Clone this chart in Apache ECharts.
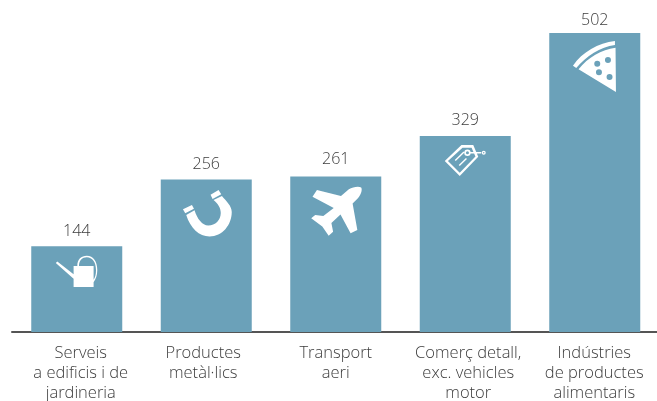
<!DOCTYPE html>
<html>
<head>
<meta charset="utf-8">
<style>
  html, body { margin: 0; padding: 0; background: #fff; overflow: hidden; }
  #chart { width: 657px; height: 401px; }
</style>
<script src="https://cdn.jsdelivr.net/npm/echarts@6/dist/echarts.min.js"></script>
</head>
<body>
<div id="chart"></div>
<script>
const categories = [
  'Serveis\na edificis i de\njardineria',
  'Productes\nmetàl·lics',
  'Transport\naeri',
  'Comerç detall,\nexc. vehicles\nmotor',
  'Indústries\nde productes\nalimentaris'
];
const values = [144, 256, 261, 329, 502];

// small pictograms, drawn in page pixels then fitted with symbolSize
const circle = (x, y, r) => `M${x - r},${y}A${r},${r} 0 1 0 ${x + r},${y}A${r},${r} 0 1 0 ${x - r},${y}Z`;

const canIcon = 'path://M73.3,265.7L77,265.7C77,259 81,255.5 86.5,255.5C93,255.5 97,261 97,270C97,275 95.5,279 93.3,282L93.3,286.7L73.3,286.7L73.3,278.5L55.5,262.7L57,261.2L73.3,274Z' +
  'M78.7,265.7L93.3,265.7L93.3,279.5C95,277 95.7,274 95.7,270C95.7,262 92,257 86.5,257C82,257 78.7,260 78.7,265.7Z';
const magnetIcon = 'path://M182.7,209.3L191.7,205L193.7,208.7L185,213.3Z' +
  'M210.3,194.7L218.3,190L221,194.3L212.3,199Z' +
  'M186,215C190,228 199,236.5 209.3,236.5C222,236.5 231.5,225 231.5,212C231.5,206 226,201 221.7,196L213.3,200C218,204 220.5,208 220.5,213C220.5,220 215,225.5 208,225.5C202,225.5 197,219 194.3,210.3Z';
const planeIcon = 'path://M348.3,189.3C352,187 358,186 360.5,187.5C362,190 360,195 357,198.5L352,203.5L356.7,230L350,233.3L340,214.5L331,223L332.7,231.7L328.3,235.7L322,226.5L311,218.3L315,215L323,216L333.3,208L312.3,196.7L316.7,190L340.5,196Z';
const tagIcon = 'path://M461.7,145L473.5,145L478.5,156.7L460,176L445,161Z' +
  'M462.8,147.8L448.2,161L460,172.8L475.7,156.5L471.8,147.8Z' +
  'M455,160L463.7,151.5L464.7,152.5L456,161Z' +
  'M459,165L466.2,158L467.2,159L460,166Z' +
  circle(467.7, 152.7, 3.2).replace(/1 0 /g, '1 1 ') + circle(467.7, 152.7, 1.5) +
  'M470.5,152L481.5,152L481.5,153.4L470.5,153.4Z' +
  circle(484, 152.7, 2).replace(/1 0 /g, '1 1 ') + circle(484, 152.7, 0.7);
const pizzaIcon = 'path://M572.7,65.7C582,52 598,43 614.7,41L614.7,45C600,47 586,56 576,68Z' +
  'M578.3,69.3C588,57 601,50 615.3,47.7L615.7,92Z' +
  circle(597, 63.7, 3) + circle(607.7, 60, 3) + circle(598.7, 72.3, 3) + circle(609.3, 77, 3);

const iconPaths = [canIcon, magnetIcon, planeIcon, tagIcon, pizzaIcon];
const iconSizes = [[41.5, 31.2], [48.8, 46.5], [50.5, 49], [41, 31], [43, 51]];
const iconOffsets = [[-0.2, 25.1], [1.1, 33.75], [0.7, 34.7], [0, 24.5], [-0.3, 33.5]];

const labelPads = [[0, 0, 0, 8], [0, 6, 0, 0], [0, 0, 0, 0], [0, 0, 0, 6], [0, 1, 0, 0]];
const valueGaps = [7, 7, 9, 8, 5];

const FONT = '"Open Sans", sans-serif';
const BAR_COLOR = '#6ba1b9';
const TEXT_COLOR = '#3c3c3c';

const chart = echarts.init(document.getElementById('chart'), null, { renderer: 'canvas' });

chart.setOption({
  animation: false,
  grid: { left: 12, width: 647.5, top: 33, bottom: 69, outerBoundsMode: 'none' },
  xAxis: {
    type: 'category',
    data: categories.map((c, i) => ({ value: c, textStyle: { padding: labelPads[i] } })),
    axisTick: { show: false },
    axisLine: { lineStyle: { color: '#555555', width: 2 } },
    axisLabel: {
      interval: 0,
      margin: 11,
      color: TEXT_COLOR,
      fontFamily: FONT,
      fontWeight: 300,
      fontSize: 16.5,
      lineHeight: 20
    }
  },
  yAxis: { type: 'value', min: 0, max: 502, show: false, splitLine: { show: false } },
  series: [
    {
      type: 'bar',
      data: values.map((v, i) => ({ value: v, label: { distance: valueGaps[i] } })),
      barWidth: 91,
      itemStyle: { color: BAR_COLOR },
      label: {
        show: true,
        position: 'top',
        color: TEXT_COLOR,
        fontFamily: FONT,
        fontWeight: 300,
        fontSize: 16
      }
    },
    {
      type: 'scatter',
      z: 5,
      silent: true,
      data: values.map((v, i) => ({
        value: [i, v],
        symbol: iconPaths[i],
        symbolSize: iconSizes[i],
        symbolOffset: iconOffsets[i]
      })),
      itemStyle: { color: '#ffffff', opacity: 1 }
    }
  ]
});
</script>
</body>
</html>
